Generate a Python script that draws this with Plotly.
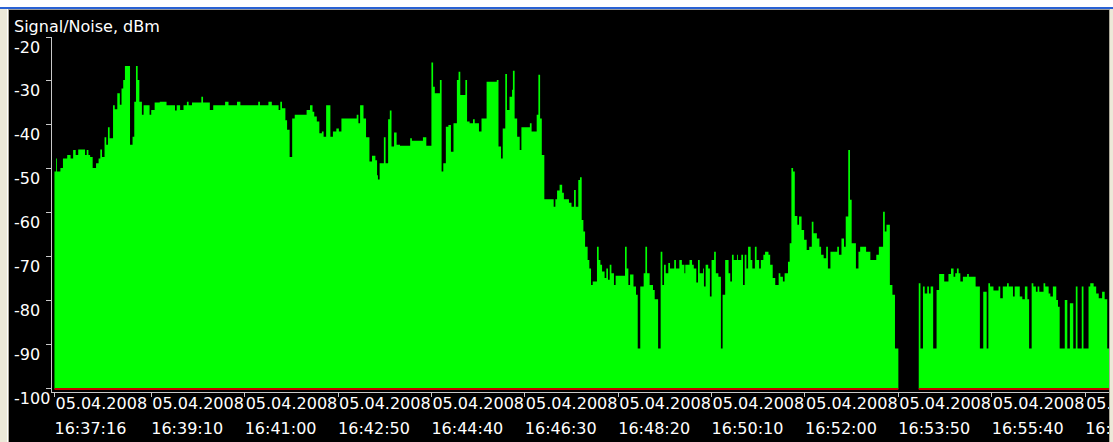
import pandas as pd
import plotly.graph_objects as go

# Signal/Noise log, 05.04.2008, sampled as level changes
START = "05.04.2008 16:37:16"

# elapsed seconds from START at which the level changes (None = no reading)
t_s = [
    0, 2, 3, 7, 10, 15, 19, 22, 25, 28, 36, 38, 40, 42, 45, 49, 52, 54, 56, 59,
    61, 63, 65, 69, 71, 74, 77, 79, 81, 83, 89, 92, 94, 96, 98, 100, 103, 105, 112, 114,
    118, 124, 132, 142, 144, 148, 152, 156, 158, 162, 173, 175, 183, 187, 201, 205, 215, 219, 240, 242,
    252, 256, 264, 266, 268, 272, 274, 277, 280, 283, 297, 301, 304, 306, 309, 312, 315, 317, 320, 325,
    328, 332, 335, 338, 356, 358, 360, 364, 367, 371, 374, 378, 380, 381, 383, 388, 390, 393, 395, 397,
    400, 403, 407, 419, 421, 434, 438, 444, 446, 448, 454, 456, 458, 461, 464, 467, 470, 474, 476, 478,
    484, 486, 489, 493, 495, 500, 503, 509, 521, 523, 526, 528, 531, 533, 536, 539, 540, 542, 545, 548,
    550, 560, 562, 568, 570, 572, 574, 577, 588, 590, 592, 595, 598, 600, 606, 609, 612, 614, 617, 619,
    621, 623, 625, 628, 630, 632, 634, 639, 641, 643, 645, 648, 650, 652, 654, 656, 659, 661, 672, 674,
    676, 678, 682, 685, 687, 690, 694, 696, 698, 701, 705, 707, 711, 714, 716, 718, 720, 723, 725, 730,
    732, 736, 739, 742, 743, 748, 751, 753, 756, 758, 760, 764, 765, 767, 770, 772, 774, 777, 779, 782,
    785, 787, 790, 794, 796, 798, 800, 804, 805, 809, 811, 813, 815, 817, 820, 822, 825, 827, 830, 832,
    835, 837, 841, 843, 846, 849, 853, 855, 858, 860, 864, 866, 868, 870, 872, 875, 877, 880, 883, 886,
    889, 892, 894, 898, 901, 903, 906, 909, 911, 914, 922, 924, 927, 930, 932, 935, 937, 939, 944, 947,
    949, 956, 961, 968, 971, 976, 978, 980, 984, 987, 990, 994, 1018, 1020, 1023, 1025, 1028, 1030, 1032, 1035,
    1039, 1042, 1048, 1053, 1056, 1059, 1061, 1063, 1065, 1067, 1070, 1075, 1077, 1085, 1090, 1094, 1098, 1100, 1102, 1106,
    1112, 1114, 1117, 1122, 1124, 1129, 1131, 1137, 1140, 1143, 1146, 1148, 1151, 1153, 1156, 1158, 1160, 1165, 1167, 1171,
    1173, 1176, 1180, 1182, 1184, 1190, 1193, 1196, 1200, 1203, 1205, 1210, 1212, 1218, 1220, 1224, 1227, 1230, 1234, 1237,
    1240, 1244,
]

# Signal/Noise level, dBm
snr_dbm = [
    -50.6, -47.6, -50.6, -49.8, -47.6, -46.8, -47.6, -45.7, -46.8, -45.6, -46.8, -45.7, -46.8, -47.3, -49.8, -48.7, -47.6, -45.6, -47.3, -42.8,
    -44.5, -40.5, -43.0, -35.5, -36.4, -32.8, -35.4, -31.7, -29.8, -26.6, -44.5, -42.7, -34.7, -26.6, -29.8, -34.7, -37.7, -35.5, -37.7, -36.6,
    -34.9, -34.7, -35.5, -36.7, -35.5, -36.6, -35.5, -34.7, -35.5, -34.9, -33.6, -34.9, -36.6, -35.5, -34.7, -35.5, -34.7, -35.5, -34.7, -35.5,
    -34.7, -35.5, -36.6, -34.7, -36.2, -38.9, -41.1, -47.3, -38.5, -37.7, -36.6, -35.5, -37.0, -38.1, -39.2, -41.9, -41.5, -42.7, -35.5, -42.7,
    -41.5, -40.8, -41.5, -38.5, -37.7, -39.6, -35.5, -38.5, -42.8, -48.3, -47.0, -48.0, -51.4, -52.4, -48.7, -42.8, -48.7, -38.7, -36.7, -44.9,
    -41.7, -44.5, -44.7, -43.0, -43.6, -42.8, -44.7, -25.8, -31.3, -32.8, -29.8, -50.6, -48.7, -40.4, -40.0, -46.1, -39.6, -29.8, -27.9, -33.2,
    -29.8, -39.2, -39.6, -38.7, -39.6, -41.5, -38.5, -30.2, -29.8, -44.9, -47.6, -40.8, -28.4, -36.6, -33.6, -32.0, -27.7, -38.5, -42.7, -45.7,
    -40.5, -39.6, -41.5, -37.7, -28.6, -38.5, -46.8, -56.9, -58.6, -56.9, -54.9, -53.6, -55.4, -56.9, -57.7, -58.6, -54.8, -58.6, -52.5, -51.9,
    -61.6, -64.2, -67.7, -70.7, -72.6, -76.4, -75.6, -67.7, -70.7, -71.8, -73.3, -74.8, -72.6, -75.2, -71.8, -73.7, -76.4, -74.3, -67.7, -72.6,
    -76.4, -74.0, -76.7, -78.6, -90.8, -76.7, -73.7, -67.7, -73.7, -76.4, -77.5, -79.6, -90.8, -68.8, -76.4, -71.8, -73.7, -71.4, -72.6, -70.7,
    -72.6, -70.7, -71.8, -73.7, -71.8, -70.7, -71.8, -72.6, -75.8, -70.7, -73.7, -72.6, -76.7, -71.8, -72.6, -79.0, -70.7, -68.8, -73.7, -74.5,
    -90.8, -78.6, -70.7, -73.7, -75.6, -69.5, -70.7, -69.5, -70.7, -69.5, -76.4, -69.5, -72.6, -67.7, -70.7, -72.6, -67.7, -70.7, -72.6, -70.7,
    -69.5, -68.8, -69.5, -71.8, -74.8, -76.4, -73.7, -74.5, -75.6, -73.7, -71.1, -66.9, -49.8, -50.6, -60.7, -62.7, -60.8, -63.9, -66.1, -68.4,
    -67.7, -62.0, -64.6, -65.8, -67.7, -69.5, -70.3, -67.7, -72.6, -68.8, -67.7, -69.5, -65.8, -67.7, -60.8, -45.7, -57.0, -66.9, -72.6, -68.8,
    -67.7, -68.8, -70.7, -69.5, -67.7, -59.7, -64.2, -62.7, -76.4, -78.6, -90.8, None, -76.0, -90.8, -76.7, -78.3, -76.7, -78.3, -76.7, -90.8,
    -77.5, -73.9, -75.6, -73.9, -72.6, -74.5, -73.7, -72.6, -73.7, -75.6, -74.5, -73.9, -74.5, -76.7, -90.8, -77.9, -90.8, -76.0, -76.7, -77.6,
    -76.7, -79.4, -76.7, -76.0, -76.7, -79.0, -76.7, -79.0, -79.6, -76.7, -79.6, -90.8, -76.0, -76.7, -77.9, -76.7, -77.9, -76.0, -76.7, -78.3,
    -79.0, -76.7, -79.8, -81.3, -90.8, -79.8, -90.8, -80.5, -90.8, -76.7, -90.8, -76.7, -90.8, -76.7, -76.0, -76.7, -78.3, -79.4, -77.9, -79.6,
    -90.8, None,
]

NOISE_FLOOR_DBM = -100

x_tick_labels = [
    "05.04.2008 16:37:16", "05.04.2008 16:39:10", "05.04.2008 16:41:00",
    "05.04.2008 16:42:50", "05.04.2008 16:44:40", "05.04.2008 16:46:30",
    "05.04.2008 16:48:20", "05.04.2008 16:50:10", "05.04.2008 16:52:00",
    "05.04.2008 16:53:50", "05.04.2008 16:55:40", "05.04.2008 16:57:30",
]
y_ticks = [-20, -30, -40, -50, -60, -70, -80, -90, -100]

# ---- layout geometry (pixels) ----
W, H = 1113, 442
ML, MR, MT, MB = 52, 4, 37, 50
PW, PH = W - ML - MR, H - MT - MB
FONT = "DejaVu Sans"
TXT = "#ffffff"
AXC = "#c8c8c8"


def px_x(px):
    return (px - ML) / PW


def px_y(py):
    return (H - MB - py) / PH


fmt = "%d.%m.%Y %H:%M:%S"
t0 = pd.to_datetime(START, format=fmt)
times = list(t0 + pd.to_timedelta([float(s) for s in t_s], unit="s"))
tick_times = list(pd.to_datetime(x_tick_labels, format=fmt))
dates = [s.split(" ")[0] for s in x_tick_labels]
clocks = [s.split(" ")[1] for s in x_tick_labels]
x_range = [t0 - pd.Timedelta(seconds=2.9), t0 + pd.Timedelta(seconds=1242.1)]

# split the record into continuous runs (a None marks the end of a run)
runs = []
rx, ry = [], []
for tm, v in zip(times, snr_dbm):
    if v is None:
        if rx:
            rx.append(tm)
            ry.append(ry[-1])
            runs.append((rx, ry))
        rx, ry = [], []
    else:
        rx.append(tm)
        ry.append(v)

fig = go.Figure()
for rx, ry in runs:
    fig.add_trace(go.Scatter(
        x=rx, y=[NOISE_FLOOR_DBM] * len(rx), mode="lines",
        line=dict(width=0, color="#00ff00"), hoverinfo="skip", showlegend=False,
    ))
    fig.add_trace(go.Scatter(
        x=rx, y=ry, mode="lines", line_shape="hv",
        line=dict(width=0, color="#00ff00"),
        fill="tonexty", fillcolor="#00ff00", showlegend=False,
        name="Signal/Noise",
    ))
for rx, ry in runs:
    fig.add_trace(go.Scatter(
        x=[rx[0], rx[-1]], y=[NOISE_FLOOR_DBM, NOISE_FLOOR_DBM], mode="lines",
        line=dict(width=2, color="#c80000"), xaxis="x2",
        hoverinfo="skip", showlegend=False,
    ))

tick_font = dict(family=FONT, size=16, color=TXT)
annotations = [
    dict(text="Signal/Noise, dBm", xref="paper", yref="paper",
         x=px_x(12), y=px_y(26), xanchor="left", yanchor="middle",
         showarrow=False, font=tick_font),
]
for v in y_ticks:
    annotations.append(dict(
        text=str(v), xref="paper", yref="y", x=px_x(12), y=v, yshift=-10,
        xanchor="left", yanchor="middle", showarrow=False, font=tick_font,
    ))

# window chrome around the plot
chrome = [
    dict(x0=0, x1=W, y0=0, y1=7, color="#ffffff"),
    dict(x0=0, x1=W, y0=7, y1=9, color="#2a62d4"),
    dict(x0=0, x1=W, y0=9, y1=10, color="#9a9a9a"),
    dict(x0=0, x1=7, y0=9, y1=H, color="#ece9d8"),
    dict(x0=7, x1=8, y0=9, y1=H, color="#ffffff"),
    dict(x0=8, x1=9, y0=9, y1=H, color="#aca899"),
    dict(x0=1109, x1=1110, y0=9, y1=H, color="#aca899"),
    dict(x0=1110, x1=W, y0=9, y1=H, color="#ece9d8"),
]
shapes = [
    dict(type="rect", xref="paper", yref="paper", layer="above",
         x0=px_x(c["x0"]), x1=px_x(c["x1"]), y0=px_y(c["y1"]), y1=px_y(c["y0"]),
         fillcolor=c["color"], line=dict(width=0))
    for c in chrome
]

fig.update_layout(
    width=W, height=H,
    margin=dict(l=ML, r=MR, t=MT, b=MB, pad=0, autoexpand=False),
    paper_bgcolor="#000000", plot_bgcolor="#000000",
    font=dict(family=FONT, size=16, color=TXT),
    showlegend=False,
    xaxis=dict(
        type="date", range=x_range, showgrid=False, zeroline=False,
        showline=True, linecolor=AXC, linewidth=1,
        ticks="outside", ticklen=4, tickwidth=1, tickcolor=AXC,
        tickmode="array", tickvals=tick_times, ticktext=dates,
        ticklabelposition="outside right", ticklabeloverflow="allow",
        tickfont=tick_font, ticklabelstandoff=-3, tickangle=0,
        automargin=False,
    ),
    xaxis2=dict(
        type="date", range=x_range, overlaying="x", anchor="y", side="bottom",
        showgrid=False, zeroline=False, showline=False, ticks="",
        tickmode="array", tickvals=tick_times, ticktext=clocks,
        ticklabelposition="outside right", ticklabeloverflow="allow",
        tickfont=tick_font, ticklabelstandoff=25, tickangle=0,
        automargin=False,
    ),
    yaxis=dict(
        range=[-100.7, -20], showgrid=False, zeroline=False,
        showline=True, linecolor=AXC, linewidth=1,
        ticks="outside", ticklen=5, tickwidth=1, tickcolor=AXC,
        tickmode="array", tickvals=y_ticks, showticklabels=False,
        automargin=False,
    ),
    annotations=annotations,
    shapes=shapes,
)

fig.write_html("out.html")
